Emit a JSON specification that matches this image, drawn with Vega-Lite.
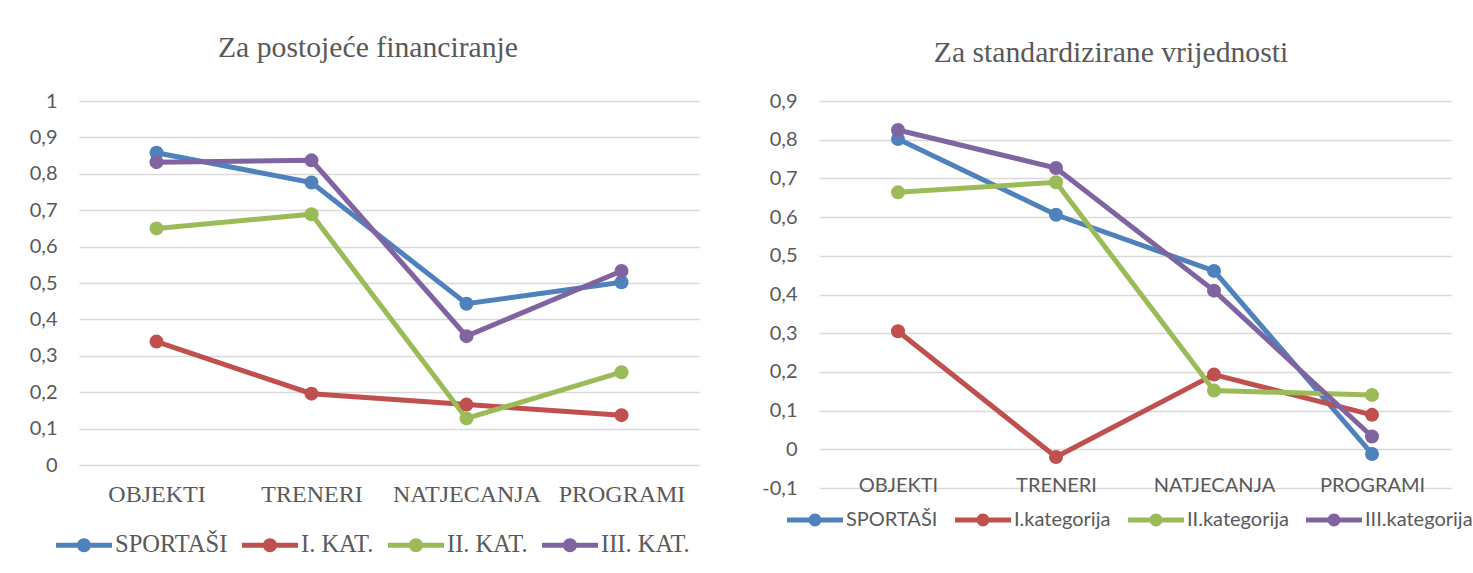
{
  "$schema": "https://vega.github.io/schema/vega-lite/v6.json",
  "background": "white",
  "padding": {"left": 0, "top": 33, "right": 0, "bottom": 0},
  "spacing": 60,
  "datasets": {
    "left": [
      {"kat": "OBJEKTI", "serija": "SPORTAŠI", "v": 0.858},
      {"kat": "TRENERI", "serija": "SPORTAŠI", "v": 0.776},
      {"kat": "NATJECANJA", "serija": "SPORTAŠI", "v": 0.443},
      {"kat": "PROGRAMI", "serija": "SPORTAŠI", "v": 0.502},
      {"kat": "OBJEKTI", "serija": "I. KAT.", "v": 0.339},
      {"kat": "TRENERI", "serija": "I. KAT.", "v": 0.196},
      {"kat": "NATJECANJA", "serija": "I. KAT.", "v": 0.166},
      {"kat": "PROGRAMI", "serija": "I. KAT.", "v": 0.137},
      {"kat": "OBJEKTI", "serija": "II. KAT.", "v": 0.650},
      {"kat": "TRENERI", "serija": "II. KAT.", "v": 0.689},
      {"kat": "NATJECANJA", "serija": "II. KAT.", "v": 0.128},
      {"kat": "PROGRAMI", "serija": "II. KAT.", "v": 0.255},
      {"kat": "OBJEKTI", "serija": "III. KAT.", "v": 0.832},
      {"kat": "TRENERI", "serija": "III. KAT.", "v": 0.837},
      {"kat": "NATJECANJA", "serija": "III. KAT.", "v": 0.354},
      {"kat": "PROGRAMI", "serija": "III. KAT.", "v": 0.533}
    ],
    "right": [
      {"kat": "OBJEKTI", "serija": "SPORTAŠI", "v": 0.802},
      {"kat": "TRENERI", "serija": "SPORTAŠI", "v": 0.606},
      {"kat": "NATJECANJA", "serija": "SPORTAŠI", "v": 0.461},
      {"kat": "PROGRAMI", "serija": "SPORTAŠI", "v": -0.012},
      {"kat": "OBJEKTI", "serija": "I.kategorija", "v": 0.305},
      {"kat": "TRENERI", "serija": "I.kategorija", "v": -0.020},
      {"kat": "NATJECANJA", "serija": "I.kategorija", "v": 0.193},
      {"kat": "PROGRAMI", "serija": "I.kategorija", "v": 0.089},
      {"kat": "OBJEKTI", "serija": "II.kategorija", "v": 0.664},
      {"kat": "TRENERI", "serija": "II.kategorija", "v": 0.690},
      {"kat": "NATJECANJA", "serija": "II.kategorija", "v": 0.152},
      {"kat": "PROGRAMI", "serija": "II.kategorija", "v": 0.140},
      {"kat": "OBJEKTI", "serija": "III.kategorija", "v": 0.825},
      {"kat": "TRENERI", "serija": "III.kategorija", "v": 0.727},
      {"kat": "NATJECANJA", "serija": "III.kategorija", "v": 0.410},
      {"kat": "PROGRAMI", "serija": "III.kategorija", "v": 0.033}
    ]
  },
  "resolve": {
    "scale": {"color": "independent", "x": "independent", "y": "independent"},
    "legend": {"color": "independent"}
  },
  "hconcat": [
    {
      "width": 620,
      "height": 364,
      "data": {"name": "left"},
      "title": {
        "text": "Za postojeće financiranje",
        "font": "Liberation Serif",
        "fontSize": 29.7,
        "fontWeight": "normal",
        "color": "#595959",
        "offset": 4,
        "baseline": "alphabetic",
        "anchor": "middle",
        "frame": "group",
        "dx": -21
      },
      "encoding": {
        "x": {
          "field": "kat",
          "type": "nominal",
          "sort": ["OBJEKTI", "TRENERI", "NATJECANJA", "PROGRAMI"],
          "scale": {"type": "point", "padding": 0.5},
          "axis": {
            "title": null,
            "labelAngle": 0,
            "labelFont": "Liberation Serif",
            "labelFontSize": 24,
            "labelColor": "#595959",
            "labelPadding": 17,
            "ticks": false,
            "domain": false,
            "grid": false
          }
        },
        "y": {
          "field": "v",
          "type": "quantitative",
          "scale": {"domain": [0, 1], "nice": false},
          "axis": {
            "title": null,
            "values": [0, 0.1, 0.2, 0.3, 0.4, 0.5, 0.6, 0.7, 0.8, 0.9, 1],
            "labelExpr": "replace(replace(format(datum.value, '.1~f'), '.', ','), '\u2212', '-')",
            "labelFont": "Lato",
            "labelFontSize": 20,
            "labelColor": "#595959",
            "labelPadding": 22,
            "ticks": false,
            "domain": false,
            "gridColor": "#D9D9D9",
            "gridWidth": 1.5,
            "minExtent": 79,
            "maxExtent": 79
          }
        },
        "color": {
          "field": "serija",
          "type": "nominal",
          "scale": {
            "domain": ["SPORTAŠI", "I. KAT.", "II. KAT.", "III. KAT."],
            "range": ["#4F81BD", "#C0504D", "#9BBB59", "#8064A2"]
          },
          "legend": {
            "orient": "none",
            "legendX": -23,
            "legendY": 416,
            "direction": "horizontal",
            "title": null,
            "padding": 0,
            "symbolType": "M-1,-0.085L1,-0.085L1,0.085L-1,0.085Z M-0.25,0A0.25,0.25 0 1,1 0.25,0A0.25,0.25 0 1,1 -0.25,0Z",
            "symbolSize": 3136,
            "symbolStrokeWidth": 0,
            "labelFont": "Liberation Serif",
            "labelFontSize": 24.5,
            "labelColor": "#595959",
            "labelOffset": 3,
            "columnPadding": 14,
            "encode": {
              "symbols": {
                "update": {
                  "fill": {"signal": "['#4F81BD','#C0504D','#9BBB59','#8064A2'][datum.index]"},
                  "stroke": {"value": "transparent"},
                  "opacity": {"value": 1}
                }
              }
            }
          }
        }
      },
      "layer": [
        {"mark": {"type": "line", "strokeWidth": 5}},
        {"mark": {"type": "point", "filled": true, "size": 196, "opacity": 1}}
      ]
    },
    {
      "width": 632,
      "height": 387,
      "data": {"name": "right"},
      "title": {
        "text": "Za standardizirane vrijednosti",
        "font": "Liberation Serif",
        "fontSize": 29.7,
        "fontWeight": "normal",
        "color": "#595959",
        "offset": -1,
        "baseline": "alphabetic",
        "anchor": "middle",
        "frame": "group",
        "dx": -24
      },
      "encoding": {
        "x": {
          "field": "kat",
          "type": "nominal",
          "sort": ["OBJEKTI", "TRENERI", "NATJECANJA", "PROGRAMI"],
          "scale": {"type": "point", "padding": 0.5},
          "axis": {
            "title": null,
            "labelAngle": 0,
            "labelFont": "Lato",
            "labelFontSize": 20,
            "labelColor": "#595959",
            "labelPadding": 26,
            "offset": -38.7,
            "ticks": false,
            "domain": false,
            "grid": false
          }
        },
        "y": {
          "field": "v",
          "type": "quantitative",
          "scale": {"domain": [-0.1, 0.9], "nice": false, "zero": false},
          "axis": {
            "title": null,
            "values": [-0.1, 0, 0.1, 0.2, 0.3, 0.4, 0.5, 0.6, 0.7, 0.8, 0.9],
            "labelExpr": "replace(replace(format(datum.value, '.1~f'), '.', ','), '\u2212', '-')",
            "labelFont": "Lato",
            "labelFontSize": 20,
            "labelColor": "#595959",
            "labelPadding": 22,
            "ticks": false,
            "domain": false,
            "gridColor": "#D9D9D9",
            "gridWidth": 1.5,
            "minExtent": 60,
            "maxExtent": 60
          }
        },
        "color": {
          "field": "serija",
          "type": "nominal",
          "scale": {
            "domain": ["SPORTAŠI", "I.kategorija", "II.kategorija", "III.kategorija"],
            "range": ["#4F81BD", "#C0504D", "#9BBB59", "#8064A2"]
          },
          "legend": {
            "orient": "none",
            "legendX": -32,
            "legendY": 391,
            "direction": "horizontal",
            "title": null,
            "padding": 0,
            "symbolType": "M-1,-0.085L1,-0.085L1,0.085L-1,0.085Z M-0.23,0A0.23,0.23 0 1,1 0.23,0A0.23,0.23 0 1,1 -0.23,0Z",
            "symbolSize": 3136,
            "symbolStrokeWidth": 0,
            "labelFont": "Lato",
            "labelFontSize": 20,
            "labelColor": "#595959",
            "labelOffset": 3,
            "columnPadding": 17,
            "encode": {
              "symbols": {
                "update": {
                  "fill": {"signal": "['#4F81BD','#C0504D','#9BBB59','#8064A2'][datum.index]"},
                  "stroke": {"value": "transparent"},
                  "opacity": {"value": 1}
                }
              }
            }
          }
        }
      },
      "layer": [
        {"mark": {"type": "line", "strokeWidth": 5}},
        {"mark": {"type": "point", "filled": true, "size": 196, "opacity": 1}}
      ]
    }
  ],
  "config": {
    "view": {"stroke": null},
    "font": "Lato"
  }
}
